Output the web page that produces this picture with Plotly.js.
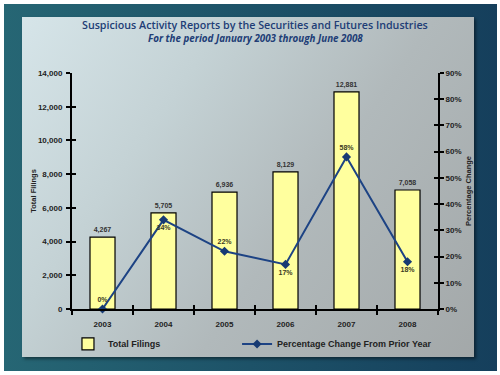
<!DOCTYPE html>
<html>
<head>
<meta charset="utf-8">
<script src="https://cdn.plot.ly/plotly-3.0.1.min.js"></script>
<style>
  html, body { margin:0; padding:0; background:#ffffff; }
  #wrap { position:relative; width:500px; height:375px; overflow:hidden; background:#ffffff; }
  #frame { position:absolute; left:4px; top:4px; width:493px; height:367px;
    background: linear-gradient(to right, #266674 0%, #1d5268 50%, #153f5c 100%); }
  #panel { position:absolute; left:22px; top:17px; width:452px; height:340px;
    background: linear-gradient(125deg, #d6e5e9 0%, #c4d2d5 30%, #b1b9bb 60%, #a3a8a9 100%);
    box-shadow: 2px 2px 3px rgba(0,0,0,0.45); }
  #chart { position:absolute; left:0; top:0; width:500px; height:375px; }
</style>
</head>
<body>
<div id="wrap">
  <div id="frame"></div>
  <div id="panel"></div>
  <div id="chart"></div>
</div>
<script>
const years = ['2003', '2004', '2005', '2006', '2007', '2008'];
const totalFilings = [4267, 5705, 6936, 8129, 12881, 7058];
const pctChange = [0, 34, 22, 17, 58, 18];
const pctLabelPos = ['top center', 'bottom center', 'top center', 'bottom center', 'top center', 'bottom center'];
const leftTicks = [0, 2000, 4000, 6000, 8000, 10000, 12000, 14000];
const leftTickText = leftTicks.map(v => v.toLocaleString('en-US'));
const rightTicks = [0, 10, 20, 30, 40, 50, 60, 70, 80, 90];
const rightTickText = rightTicks.map(v => v + '%');

const FONT = 'Liberation Sans, Arial, sans-serif';
const lblFont = {family: FONT, size: 8, color: '#222222', weight: 700};

const bars = {
  type: 'bar', x: years, y: totalFilings, name: 'Total Filings', legend: 'legend',
  marker: {color: '#ffff9e', line: {color: '#000000', width: 1.2}},
  width: 0.41,
  text: totalFilings.map(v => v.toLocaleString('en-US')),
  textposition: 'outside', cliponaxis: false,
  textfont: {family: FONT, size: 7, color: '#333333', weight: 700},
  hoverinfo: 'skip'
};
const line = {
  type: 'scatter', mode: 'lines+markers+text', x: years, y: pctChange, yaxis: 'y2', legend: 'legend2',
  name: 'Percentage Change From Prior Year',
  line: {color: '#1d4384', width: 2},
  marker: {symbol: 'diamond', size: 7, color: '#173a73'},
  text: pctChange.map(v => v + '%'),
  textposition: pctLabelPos, cliponaxis: false,
  textfont: {family: FONT, size: 7, color: '#3a3a22', weight: 700},
  hoverinfo: 'skip'
};

const legendFont = {family: FONT, size: 9, color: '#222222', weight: 700};

const layout = {
  width: 500, height: 375,
  margin: {l: 72, r: 62, t: 73, b: 66, pad: 0},
  paper_bgcolor: 'rgba(0,0,0,0)', plot_bgcolor: 'rgba(0,0,0,0)',
  showlegend: true,
  xaxis: {
    type: 'category', showgrid: false, showline: true, linecolor: '#000000', linewidth: 2,
    ticks: 'outside', tickson: 'boundaries', ticklen: 4, tickwidth: 2, tickcolor: '#000000',
    tickfont: lblFont, zeroline: false, ticklabelstandoff: 6
  },
  xaxis2: {
    overlaying: 'x', anchor: 'y', range: [-0.5, 5.5], tick0: 0.5, dtick: 1,
    ticks: 'inside', ticklen: 4, tickwidth: 2, tickcolor: '#000000',
    showticklabels: false, showline: false, showgrid: false, zeroline: false
  },
  yaxis: {
    range: [0, 14000], tickmode: 'array', tickvals: leftTicks, ticktext: leftTickText,
    showgrid: false, showline: true, linecolor: '#000000', linewidth: 2, zeroline: false,
    ticks: 'outside', ticklen: 4, tickwidth: 2, tickcolor: '#000000', tickfont: lblFont,
    ticklabelstandoff: 2,
    title: {text: 'Total Filings', font: {family: FONT, size: 7.5, color: '#222222', weight: 700}, standoff: 0}
  },
  yaxis3: {
    overlaying: 'y', side: 'left', range: [0, 14000], tickmode: 'array', tickvals: leftTicks,
    ticks: 'inside', ticklen: 4, tickwidth: 2, tickcolor: '#000000',
    showticklabels: false, showline: false, showgrid: false, zeroline: false
  },
  yaxis2: {
    overlaying: 'y', side: 'right', range: [0, 90], tickmode: 'array', tickvals: rightTicks, ticktext: rightTickText,
    showgrid: false, showline: true, linecolor: '#000000', linewidth: 2, zeroline: false,
    ticks: 'outside', ticklen: 4, tickwidth: 2, tickcolor: '#000000', tickfont: lblFont,
    title: {text: 'Percentage Change', font: {family: FONT, size: 7.5, color: '#222222', weight: 700}, standoff: 5}
  },
  yaxis4: {
    overlaying: 'y', side: 'right', range: [0, 90], tickmode: 'array', tickvals: rightTicks,
    ticks: 'inside', ticklen: 4, tickwidth: 2, tickcolor: '#000000',
    showticklabels: false, showline: false, showgrid: false, zeroline: false
  },
  legend: {
    orientation: 'h', x: -0.011, xanchor: 'left', y: -0.148, yanchor: 'middle',
    bgcolor: 'rgba(0,0,0,0)', itemwidth: 30, font: legendFont
  },
  legend2: {
    orientation: 'h', x: 0.451, xanchor: 'left', y: -0.148, yanchor: 'middle',
    bgcolor: 'rgba(0,0,0,0)', itemwidth: 30, font: legendFont
  },
  annotations: [
    {xref: 'paper', yref: 'paper', x: 0.5, y: 1, yshift: 48, xanchor: 'center', yanchor: 'middle', showarrow: false,
     text: 'Suspicious Activity Reports by the Securities and Futures Industries',
     font: {family: 'Open Sans, sans-serif', size: 10.7, color: '#213d76', weight: 600}},
    {xref: 'paper', yref: 'paper', x: 0.5, y: 1, yshift: 35, xanchor: 'center', yanchor: 'middle', showarrow: false,
     text: '<b><i>For the period January 2003 through June 2008</i></b>',
     font: {family: 'Open Sans, sans-serif', size: 9.8, color: '#213d76'}}
  ]
};

// empty traces that switch on the overlay axes used for crossing tick marks
const ghostX = {type: 'scatter', x: [], y: [], xaxis: 'x2', yaxis: 'y', showlegend: false, hoverinfo: 'skip'};
const ghostY3 = {type: 'scatter', x: [], y: [], yaxis: 'y3', showlegend: false, hoverinfo: 'skip'};
const ghostY4 = {type: 'scatter', x: [], y: [], yaxis: 'y4', showlegend: false, hoverinfo: 'skip'};

Plotly.newPlot('chart', [bars, line, ghostX, ghostY3, ghostY4], layout, {displayModeBar: false, staticPlot: true});
</script>
</body>
</html>
